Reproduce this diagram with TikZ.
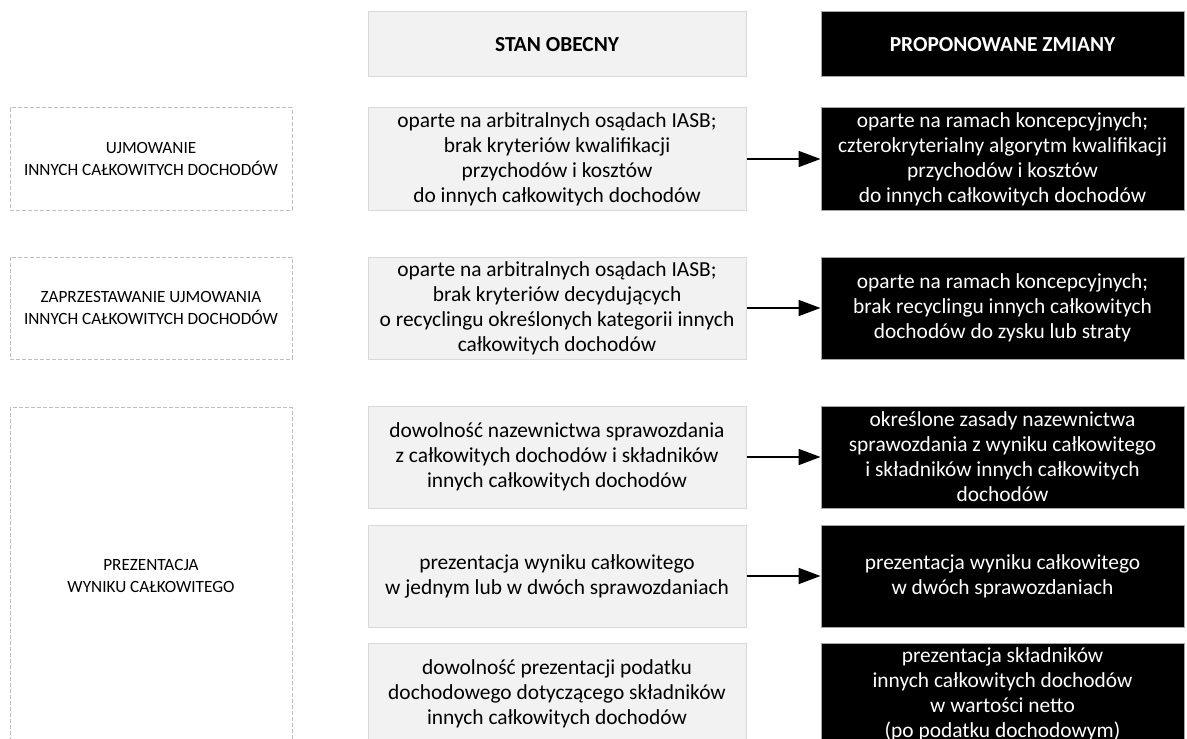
\documentclass[tikz,border=0pt]{standalone}
\usepackage{fontspec}
\setmainfont{Carlito}
\usepackage{tikz}
\usetikzlibrary{positioning}
\usetikzlibrary{arrows.meta}
\definecolor{boxfill}{HTML}{F2F2F2}
\definecolor{boxline}{HTML}{D9D9D9}
\definecolor{dashline}{HTML}{BFBFBF}
\tikzset{>={Triangle[length=11pt,width=8pt]}}
\tikzstyle{current}=[
  rectangle,draw=boxline,fill=boxfill,line width=0.5pt,
  minimum width=189pt,minimum height=51pt,inner sep=0pt,
  align=center,font=\fontsize{10.7}{12.5}\selectfont
]
\tikzstyle{proposed}=[
  rectangle,draw=gray!70,fill=black,text=white,line width=0.5pt,
  minimum width=181.5pt,minimum height=51pt,inner sep=0pt,
  align=center,font=\fontsize{10.7}{12.5}\selectfont
]
\tikzstyle{topic}=[
  rectangle,draw=dashline,dash pattern=on 2pt off 1pt,line width=0.5pt,
  minimum width=141pt,minimum height=51pt,inner sep=0pt,
  align=center,font=\fontsize{8.6}{11.3}\selectfont
]
\tikzstyle{head}=[minimum height=32.5pt,font=\bfseries\fontsize{10.7}{12}\selectfont]
\tikzstyle{change}=[->,line width=0.9pt]

\begin{document}
\begin{tikzpicture}[x=0.5pt,y=-0.5pt]
  \useasboundingbox (0,0) rectangle (1187,738);
  \clip (0,0) rectangle (1187,738);

  \node[current] (osad1) at (557,159) {oparte na arbitralnych osądach IASB;\\brak kryteriów kwalifikacji\\przychodów i kosztów\\do innych całkowitych dochodów};
  \node[proposed,right=37pt of osad1] (rama1) {oparte na ramach koncepcyjnych;\\czterokryterialny algorytm kwalifikacji\\przychodów i kosztów\\do innych całkowitych dochodów};
  \node[topic,left=37.5pt of osad1] (ujmowanie) {UJMOWANIE\\INNYCH CAŁKOWITYCH DOCHODÓW};

  \node[current,head,above=15pt of osad1] (stan) {STAN OBECNY};
  \node[proposed,head,above=15pt of rama1] (zmiany) {PROPONOWANE ZMIANY};

  \node[current,below=23pt of osad1] (osad2) {oparte na arbitralnych osądach IASB;\\brak kryteriów decydujących\\o recyclingu określonych kategorii innych\\całkowitych dochodów};
  \node[proposed,right=37pt of osad2] (rama2) {oparte na ramach koncepcyjnych;\\brak recyclingu innych całkowitych\\dochodów do zysku lub straty};
  \node[topic,left=37.5pt of osad2] (zaprzestanie) {ZAPRZESTAWANIE UJMOWANIA\\INNYCH CAŁKOWITYCH DOCHODÓW};

  % prezentacja - trzy wiersze
  \node[current,below=23pt of osad2] (nazwa) {dowolność nazewnictwa sprawozdania\\z całkowitych dochodów i składników\\innych całkowitych dochodów};
  \node[proposed,right=37pt of nazwa] (zasady) {określone zasady nazewnictwa\\sprawozdania z wyniku całkowitego\\i składników innych całkowitych\\dochodów};
  \node[current,below=8pt of nazwa] (jedno) {prezentacja wyniku całkowitego\\w jednym lub w dwóch sprawozdaniach};
  \node[proposed,right=37pt of jedno] (dwa) {prezentacja wyniku całkowitego\\w dwóch sprawozdaniach};
  \node[current,below=7.5pt of jedno] (podatek) {dowolność prezentacji podatku\\dochodowego dotyczącego składników\\innych całkowitych dochodów};
  \node[proposed,right=37pt of podatek] (netto) {prezentacja składników\\innych całkowitych dochodów\\w wartości netto\\(po podatku dochodowym)};
  \node[topic,minimum height=168.5pt,left=37.5pt of jedno] (prezentacja) {PREZENTACJA\\WYNIKU CAŁKOWITEGO};

  \draw[change] (osad1) -- (rama1);
  \draw[change] (osad2) -- (rama2);
  \draw[change] (nazwa) -- (zasady);
  \draw[change] (jedno) -- (dwa);
\end{tikzpicture}
\end{document}
